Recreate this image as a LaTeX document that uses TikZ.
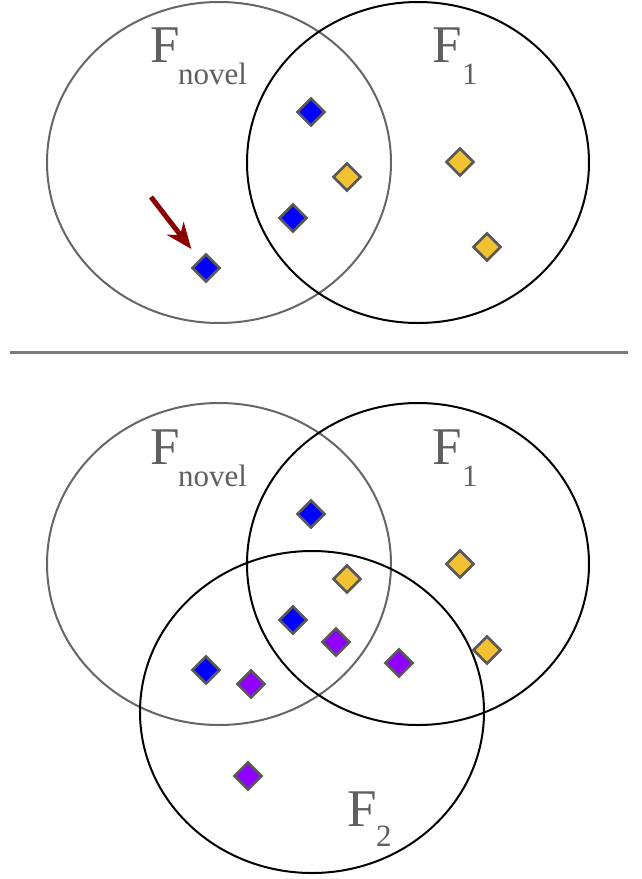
\documentclass[tikz,border=0pt]{standalone}
\usepackage{fontspec}
\setmainfont{Liberation Serif}
\usetikzlibrary{shapes.geometric,arrows.meta}
\definecolor{setgray}{HTML}{666666}
\definecolor{labgray}{HTML}{5F5F5F}
\definecolor{divgray}{HTML}{7A7A7A}
\definecolor{dyellow}{HTML}{F2C232}
\definecolor{dpurple}{HTML}{9000FF}
\definecolor{dblue}{HTML}{0000FF}
\definecolor{darrow}{HTML}{8B0000}
\tikzset{
  novelset/.style={draw=setgray,line width=2pt},
  featset/.style={draw=black,line width=2pt},
  dia/.style={shape=diamond,draw=black!65,line width=2.6pt,minimum width=28pt,minimum height=28pt,inner sep=0pt},
  bigF/.style={anchor=base west,inner sep=0pt,text=labgray,font=\fontsize{53}{53}\selectfont},
  subF/.style={anchor=base west,inner sep=0pt,text=labgray,font=\fontsize{31}{31}\selectfont},
  pointer/.style={draw=darrow,line width=5pt,-{Stealth[length=26pt,width=21pt,inset=8pt]},shorten >=24pt}
}
\begin{document}
\begin{tikzpicture}[x=1pt,y=-1pt]
\useasboundingbox (0,0) rectangle (641,879);
% ---------- top panel ----------
\draw[novelset] (219,162.5) ellipse [x radius=172, y radius=160.5];
\draw[featset] (418,162.5) ellipse [x radius=171, y radius=160.5];
\node[bigF] (tFn) at (150,62) {F};
\node[subF] (tFns) at (178,84) {novel};
\node[bigF] (tF1) at (432,62) {F};
\node[subF] (tF1s) at (462,84) {1};
\node[dia,fill=dblue] (tb1) at (311,112) {};
\node[dia,fill=dyellow] (ty1) at (347,177) {};
\node[dia,fill=dblue] (tb2) at (293,218) {};
\node[dia,fill=dyellow] (ty2) at (460,162) {};
\node[dia,fill=dyellow] (ty3) at (487,247) {};
\node[dia,fill=dblue] (tb3) at (206,268) {};
\coordinate (arrstart) at (151,197);
\draw[pointer] (arrstart) -- (tb3.center);
% ---------- divider ----------
\coordinate (divL) at (10,352.5);
\coordinate (divR) at (628,352.5);
\draw[divgray,line width=2.2pt] (divL) -- (divR);
% ---------- bottom panel ----------
\draw[novelset] (219,564) ellipse [x radius=172, y radius=161];
\draw[featset] (418,564) ellipse [x radius=171, y radius=161];
\draw[featset] (312,712) ellipse [x radius=172, y radius=161];
\node[bigF] (bFn) at (150,464) {F};
\node[subF] (bFns) at (178,486) {novel};
\node[bigF] (bF1) at (432,464) {F};
\node[subF] (bF1s) at (462,486) {1};
\node[bigF] (bF2) at (347,826) {F};
\node[subF] (bF2s) at (376,846) {2};
\node[dia,fill=dblue] (bb1) at (311,514) {};
\node[dia,fill=dyellow] (by1) at (347,579) {};
\node[dia,fill=dblue] (bb2) at (293,620) {};
\node[dia,fill=dyellow] (by2) at (460,564) {};
\node[dia,fill=dyellow] (by3) at (487,650) {};
\node[dia,fill=dblue] (bb3) at (206,670) {};
\node[dia,fill=dpurple] (bp1) at (336,642) {};
\node[dia,fill=dpurple] (bp2) at (399,663) {};
\node[dia,fill=dpurple] (bp3) at (251,684) {};
\node[dia,fill=dpurple] (bp4) at (248,776) {};
\end{tikzpicture}
\end{document}
